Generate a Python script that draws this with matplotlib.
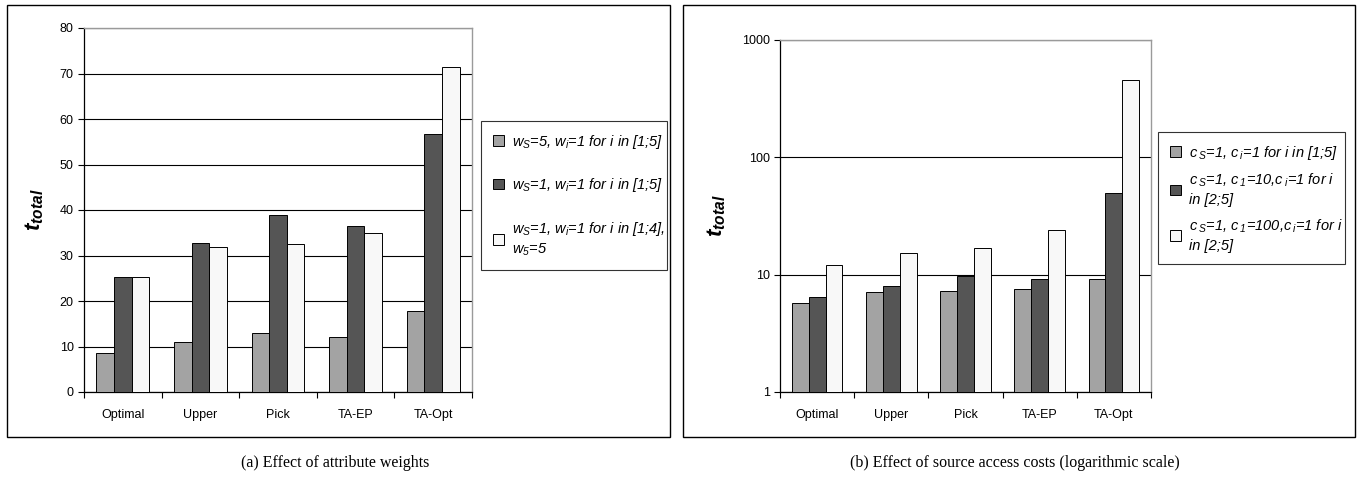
import matplotlib.pyplot as plt
import matplotlib.patches as patches
from matplotlib.ticker import FixedLocator, NullLocator, FuncFormatter
import numpy as np

plt.rcParams['font.family'] = ['Liberation Sans', 'DejaVu Sans']
plt.rcParams['mathtext.fontset'] = 'custom'
plt.rcParams['mathtext.it'] = 'Liberation Sans:italic'
plt.rcParams['mathtext.rm'] = 'Liberation Sans:italic'
plt.rcParams['mathtext.bf'] = 'Liberation Sans:bold:italic'

methods = ['Optimal', 'Upper', 'Pick', 'TA-EP', 'TA-Opt']

# (a) attribute weights
w_s5 = [8.5, 11.0, 13.0, 12.1, 17.8]
w_s1 = [25.2, 32.8, 38.8, 36.4, 56.8]
w_55 = [25.2, 31.8, 32.6, 35.0, 71.4]
labels_a = [r'$w_S$=5, $w_i$=1 for i in [1;5]',
            r'$w_S$=1, $w_i$=1 for i in [1;5]',
            r'$w_S$=1, $w_i$=1 for i in [1;4],' + '\n' + r'$w_5$=5']

# (b) source access costs (log scale)
c_1 = [5.7, 7.1, 7.3, 7.6, 9.2]
c_10 = [6.4, 8.0, 9.8, 9.2, 49.7]
c_100 = [12.1, 15.2, 17.0, 23.9, 455]
labels_b = [r'c$\,_S$=1, c$\,_i$=1 for i in [1;5]',
            r'c$\,_S$=1, c$\,_1$=10,c$\,_i$=1 for i' + '\n' + 'in [2;5]',
            r'c$\,_S$=1, c$\,_1$=100,c$\,_i$=1 for i' + '\n' + 'in [2;5]']

colors = ['#a3a3a3', '#555555', '#f8f8f8']

W, H = 1359, 488
fig = plt.figure(figsize=(W / 100, H / 100), dpi=100)


def px(x0, y0, x1, y1):
    return [x0 / W, 1 - y1 / H, (x1 - x0) / W, (y1 - y0) / H]


def draw(ax, series, labels, legend_box, spacing):
    x = np.arange(len(methods))
    bw = 0.227
    for k, (vals, c, lab) in enumerate(zip(series, colors, labels)):
        ax.bar(x + (k - 1) * bw, vals, bw, color=c, edgecolor='black',
               linewidth=0.7, label=lab, zorder=3)
    ax.set_xlim(-0.5, len(methods) - 0.5)
    ax.xaxis.set_major_locator(FixedLocator(np.arange(-0.5, len(methods))))
    ax.xaxis.set_major_formatter(FuncFormatter(lambda v, p: ''))
    ax.xaxis.set_minor_locator(FixedLocator(x))
    ax.set_xticklabels(methods, minor=True)
    ax.tick_params(axis='x', which='minor', length=0, pad=12, labelsize=9)
    ax.tick_params(axis='x', which='major', direction='out', length=4, width=0.8)
    ax.tick_params(axis='y', direction='out', length=4, width=0.8, labelsize=9)
    ax.yaxis.grid(True, color='black', linewidth=0.8, zorder=0)
    ax.set_axisbelow(True)
    for s in ['top', 'right']:
        ax.spines[s].set_color('#9a9a9a')
        ax.spines[s].set_linewidth(1.0)
    for s in ['left', 'bottom']:
        ax.spines[s].set_linewidth(0.9)
    ax.set_ylabel(r'$\mathbf{t_{total}}$', fontsize=16, labelpad=10)
    x0, y0, x1, y1 = legend_box
    leg = ax.legend(loc='upper left',
                    bbox_to_anchor=(x0 / W, 1 - y1 / H, (x1 - x0) / W, (y1 - y0) / H),
                    bbox_transform=fig.transFigure, mode='expand',
                    prop={'style': 'italic', 'size': 10.5}, frameon=True,
                    fancybox=False, edgecolor='black', borderpad=0.8,
                    labelspacing=spacing, handlelength=0.75, handleheight=0.75,
                    handletextpad=0.6, borderaxespad=0)
    leg.get_frame().set_linewidth(0.8)
    for t in leg.get_texts():
        t.set_linespacing(1.35)
    return ax


ax1 = fig.add_axes(px(84, 28, 472, 392))
draw(ax1, [w_s5, w_s1, w_55], labels_a, (481, 121, 667, 267), 1.75)
ax1.set_ylim(0, 80)
ax1.set_yticks(np.arange(0, 81, 10))

ax2 = fig.add_axes(px(780, 40, 1151, 392))
ax2.set_yscale('log')
draw(ax2, [c_1, c_10, c_100], labels_b, (1158, 132, 1345, 272), 0.7)
ax2.set_ylim(1, 1000)
ax2.yaxis.set_major_locator(FixedLocator([1, 10, 100, 1000]))
ax2.yaxis.set_minor_locator(NullLocator())
ax2.yaxis.set_major_formatter(FuncFormatter(lambda v, p: '%d' % v))

# outer frames
for (x0, y0, x1, y1) in [(7, 5, 670, 437), (683, 5, 1355, 437)]:
    fig.patches.append(patches.Rectangle((x0 / W, 1 - y1 / H), (x1 - x0) / W,
                                         (y1 - y0) / H, transform=fig.transFigure,
                                         fill=False, edgecolor='black', linewidth=1.0))

fig.text(335 / W, 1 - 463 / H, '(a) Effect of attribute weights',
         family='Liberation Serif', fontsize=11.5, ha='center', va='center')
fig.text(1015 / W, 1 - 463 / H, '(b) Effect of source access costs (logarithmic scale)',
         family='Liberation Serif', fontsize=11.5, ha='center', va='center')

fig.savefig('out.png', dpi=100)
